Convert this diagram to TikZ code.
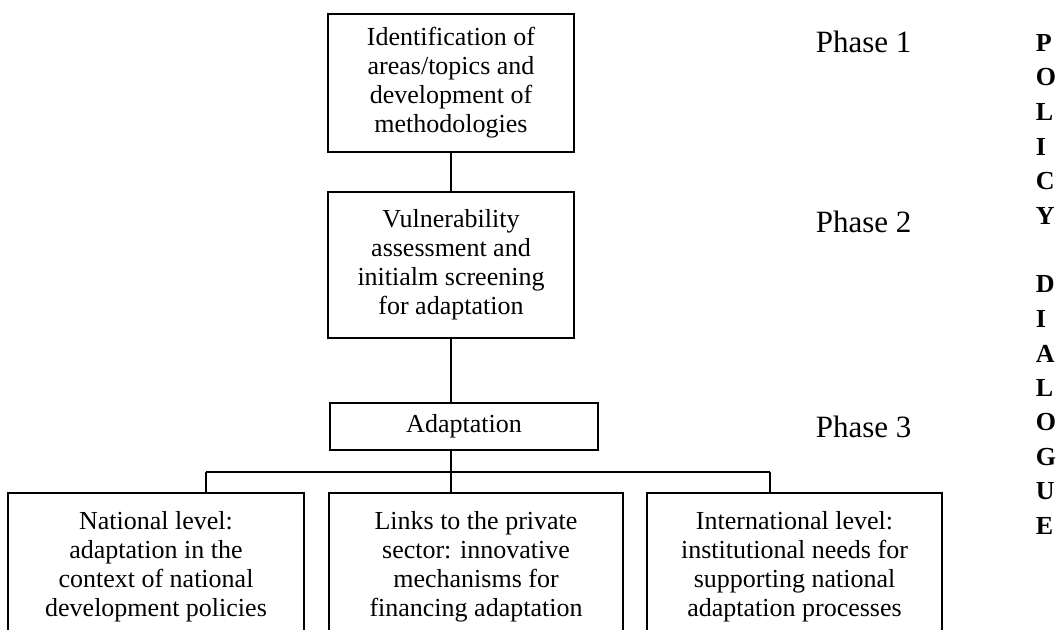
\documentclass[tikz,border=0pt]{standalone}
\usepackage{fontspec}
\setmainfont{Liberation Serif}
\usetikzlibrary{calc,positioning}
\tikzset{
  stagebox/.style={draw, line width=0.9pt, align=center, inner sep=2pt, font=\fontsize{13}{14.5}\selectfont},
  levelbox/.style={draw, line width=0.9pt, align=center, inner sep=2pt, minimum height=73.5pt, font=\fontsize{13}{14.5}\selectfont},
  phaselabel/.style={anchor=west, inner sep=0pt, font=\fontsize{15.5}{17}\selectfont},
  sideletter/.style={anchor=west, inner sep=0pt, font=\fontsize{13}{13}\selectfont\bfseries}
}
\begin{document}
\begin{tikzpicture}[x=0.5pt, y=-0.5pt, line width=0.9pt]
    \useasboundingbox (0,0) rectangle (1064,630);
    \clip (0,0) rectangle (1064,630);
    \node[stagebox, minimum width=123pt, minimum height=69pt] (ident) at (451,83) {Identification of\\areas/topics and\\development of\\methodologies};
    \node[stagebox, minimum width=123pt, minimum height=73pt] (vuln) at (451,265) {Vulnerability\\assessment and\\initialm screening\\for adaptation};
    \node[stagebox, minimum width=134pt, minimum height=23.5pt] (adapt) at (464,426.5) {Adaptation};
    \node[levelbox, minimum width=148pt] (natl) at (156,566.5) {National level:\\adaptation in the\\context of national\\development policies};
    \node[levelbox, minimum width=147pt] (priv) at (476,566.5) {Links to the private\\sector: innovative\\mechanisms for\\financing adaptation};
    \node[levelbox, minimum width=147.5pt] (intl) at (794.5,566.5) {International level:\\institutional needs for\\supporting national\\adaptation processes};
    \coordinate (trunk) at (451,0);
    \coordinate (busl) at (206,472);
    \coordinate (busr) at (770,472);
    \draw (ident.south -| trunk) -- (vuln.north -| trunk);
    \draw (vuln.south -| trunk) -- (adapt.north -| trunk);
    \draw (adapt.south -| trunk) -- (priv.north -| trunk);
    \draw (busl) -- (busr);
    \draw (busl) -- (natl.north -| busl);
    \draw (busr) -- (intl.north -| busr);
    \node[phaselabel] (ph1) at (815,42) {Phase 1};
    \node[phaselabel] (ph2) at (815,222) {Phase 2};
    \node[phaselabel] (ph3) at (815,427) {Phase 3};
    \foreach \ch [count=\i from 0] in {P,O,L,I,C,Y}
        \node[sideletter] (pol\i) at (1035,{43+34.5*\i}) {\ch};
    \foreach \ch [count=\i from 7] in {D,I,A,L,O,G,U,E}
        \node[sideletter] (dia\i) at (1035,{43+34.5*\i}) {\ch};
\end{tikzpicture}
\end{document}
